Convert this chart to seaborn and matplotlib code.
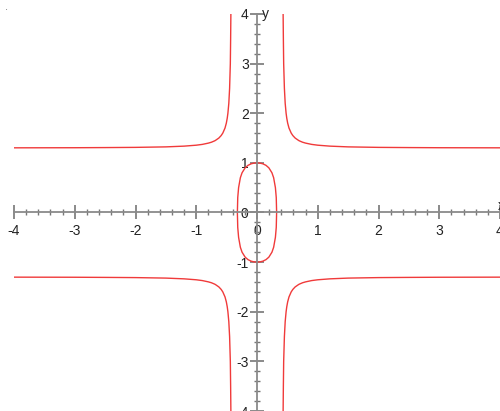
import numpy as np
import matplotlib
matplotlib.use("Agg")
import matplotlib.pyplot as plt
import seaborn as sns
from matplotlib.ticker import MultipleLocator

# upper-right outer branch (other three are mirrors)
branch_x = [0.430, 0.434, 0.439, 0.451, 0.464, 0.479, 0.490, 0.505, 0.527, 0.563,
            0.590, 0.628, 0.687, 0.700, 0.750, 0.800, 0.900, 1.000, 1.200, 1.500,
            2.000, 2.500, 3.000, 3.500, 4.000]
branch_y = [4.000, 3.500, 3.000, 2.500, 2.200, 2.000, 1.900, 1.800, 1.700, 1.600,
            1.550, 1.500, 1.450, 1.442, 1.416, 1.398, 1.372, 1.356, 1.337, 1.322,
            1.312, 1.308, 1.305, 1.304, 1.303]

# quarter of the inner oval (x >= 0, y >= 0)
oval_x = [0.000, 0.050, 0.098, 0.148, 0.195, 0.246, 0.274, 0.303, 0.317, 0.323]
oval_y = [1.000, 0.995, 0.980, 0.950, 0.900, 0.800, 0.700, 0.500, 0.300, 0.000]

ticks = [-4, -3, -2, -1, 0, 1, 2, 3, 4]
tick_labels = ["-4", "-3", "-2", "-1", "0", "1", "2", "3", "4"]

sns.set_style("white")
plt.rcParams["font.family"] = ["Liberation Sans", "DejaVu Sans"]

fig = plt.figure(figsize=(5, 4.11), dpi=100)
ax = fig.add_axes([0.028, 0.0, 0.972, 0.966])

curve_color = "#f03a3a"
for sx in (1, -1):
    for sy in (1, -1):
        sns.lineplot(x=sx * np.array(branch_x), y=sy * np.array(branch_y), sort=False,
                     estimator=None, color=curve_color, lw=1, ax=ax)
        sns.lineplot(x=sx * np.array(oval_x), y=sy * np.array(oval_y), sort=False,
                     estimator=None, color=curve_color, lw=1, ax=ax)

ax.set_xlim(-4, 4)
ax.set_ylim(-4, 4)

# axes through the origin
for side in ["top", "right"]:
    ax.spines[side].set_visible(False)
ax.spines["left"].set_position(("data", 0))
ax.spines["bottom"].set_position(("data", 0))
for side in ["left", "bottom"]:
    ax.spines[side].set_color("#8a8a8a")
    ax.spines[side].set_linewidth(1.3)

ax.set_xticks(ticks)
ax.set_xticklabels(tick_labels)
ax.set_yticks(ticks)
ax.set_yticklabels(tick_labels)
ax.xaxis.set_minor_locator(MultipleLocator(0.2))
ax.yaxis.set_minor_locator(MultipleLocator(0.2))
ax.tick_params(which="both", bottom=True, left=True, top=False, right=False)
ax.tick_params(which="major", direction="inout", length=10, width=1.2,
               color="#777777", labelsize=10, labelcolor="#222222")
ax.tick_params(which="minor", direction="inout", length=5, width=1.0, color="#777777")
ax.tick_params(axis="x", which="major", pad=3)
ax.tick_params(axis="y", which="major", pad=1)

ax.text(0.08, 4.0, "y", fontsize=10, color="#222222", va="center", ha="left")
ax.text(3.96, 0.14, "x", fontsize=10, color="#222222", va="center", ha="left")

# small stray dot in the top-left corner of the original
fig.text(0.01, 0.975, ".", fontsize=8, color="#777777")

plt.savefig("out.png", dpi=100)
